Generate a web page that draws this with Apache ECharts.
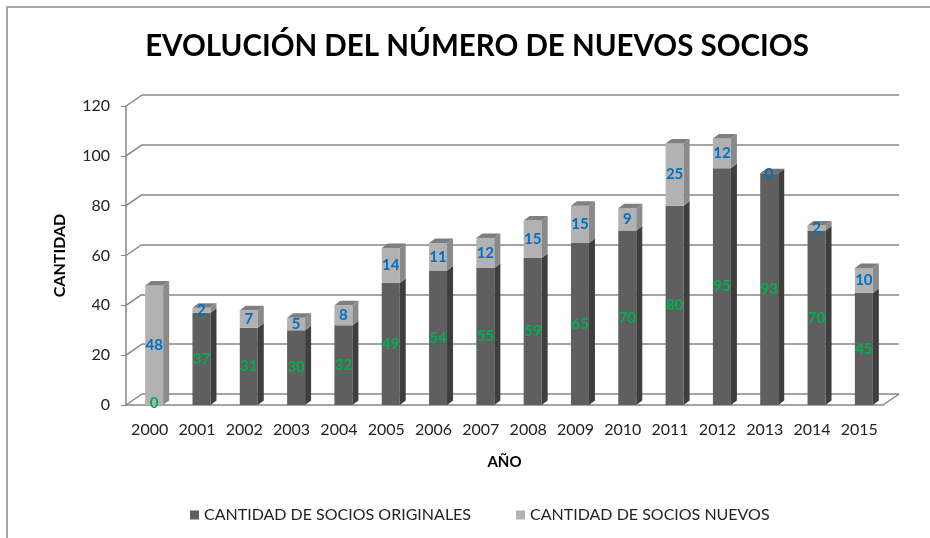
<!DOCTYPE html>
<html>
<head>
<meta charset="utf-8">
<script src="https://cdn.jsdelivr.net/npm/echarts@6/dist/echarts.min.js"></script>
<style>
  html, body { margin: 0; padding: 0; background: #fff; }
  #chart { width: 930px; height: 538px; }
</style>
</head>
<body>
<div id="chart"></div>
<script>
const years = ["2000", "2001", "2002", "2003", "2004", "2005", "2006", "2007",
  "2008", "2009", "2010", "2011", "2012", "2013", "2014", "2015"];
const originales = [0, 37, 31, 30, 32, 49, 54, 55, 59, 65, 70, 80, 95, 93, 70, 45];
const nuevos = [48, 2, 7, 5, 8, 14, 11, 12, 15, 15, 9, 25, 12, 0, 2, 10];
const yTicks = [0, 20, 40, 60, 80, 100, 120];

// fake 3d depth
const DX = 16, DY = 11;
const BAR_L = -4.5, BAR_R = 13.5, SIDE = 6, SIDE_UP = 4.5;
const FONT = "Lato, 'Open Sans', sans-serif";

const chart = echarts.init(document.getElementById("chart"));

function barShape(base, top, x0, x1, front, side, topCol, withTop) {
  const out = [
    { type: "rect", shape: { x: x0, y: top, width: x1 - x0, height: base - top }, style: { fill: front } },
    { type: "polygon", shape: { points: [[x1, top], [x1 + SIDE, top - SIDE_UP], [x1 + SIDE, base - SIDE_UP], [x1, base]] }, style: { fill: side } }
  ];
  if (withTop) {
    out.push({ type: "polygon", shape: { points: [[x0, top], [x0 + SIDE, top - SIDE_UP], [x1 + SIDE, top - SIDE_UP], [x1, top]] }, style: { fill: topCol } });
  }
  return out;
}

function label(text, x, y, color) {
  return { type: "text", z2: 10, x: x, y: y, style: { text: String(text), fill: color, font: "bold 15px " + FONT, align: "center", verticalAlign: "middle" } };
}

function renderOrig(params, api) {
  const i = api.value(0), v = api.value(1), n = api.value(2);
  const b = api.coord([i, 0]), t = api.coord([i, v]);
  const x0 = b[0] + BAR_L, x1 = b[0] + BAR_R;
  let children = [];
  if (v > 0) children = barShape(b[1], t[1], x0, x1, "#5f5f5f", "#3e3e3e", "#717171", n === 0);
  children.push(label(v, (x0 + x1) / 2, (b[1] + t[1]) / 2 - (v === 0 ? 2 : 0), "#00b050"));
  return { type: "group", children: children };
}

function renderNuevo(params, api) {
  const i = api.value(0), o = api.value(1), n = api.value(2);
  const b = api.coord([i, o]), t = api.coord([i, o + n]);
  const x0 = b[0] + BAR_L, x1 = b[0] + BAR_R;
  let children = [];
  if (n > 0) children = barShape(b[1], t[1], x0, x1, "#b2b2b2", "#8a8a8a", "#7f7f7f", true);
  children.push(label(n, (x0 + x1) / 2, (b[1] + t[1]) / 2 + (n === 0 ? 1 : 0), "#0070c0"));
  return { type: "group", children: children };
}

// side wall / floor diagonals
function renderWall(params, api) {
  const cs = params.coordSys;
  const v = api.value(1);
  const p = api.coord([0, v]);
  const x = cs.x;
  const lines = [{ type: "line", shape: { x1: x, y1: p[1], x2: x + DX, y2: p[1] - DY }, style: { stroke: "#868686", lineWidth: 1.5 } }];
  if (v === 0) {
    const r = cs.x + cs.width;
    lines.push({ type: "line", shape: { x1: r, y1: p[1], x2: r + DX, y2: p[1] - DY }, style: { stroke: "#868686", lineWidth: 1.5 } });
  }
  return { type: "group", children: lines };
}

chart.setOption({
  animation: false,
  title: {
    text: "EVOLUCIÓN DEL NÚMERO DE NUEVOS SOCIOS",
    left: 472, top: 26, textAlign: "center",
    textStyle: { fontFamily: FONT, fontWeight: "bold", fontSize: 29.5, color: "#000" }
  },
  graphic: [{
    type: "rect", silent: true,
    shape: { x: 7, y: 7, width: 1000, height: 1000 },
    style: { fill: "none", stroke: "#8c8c8c", lineWidth: 1.5 }
  }],
  legend: {
    bottom: 10, left: 185,
    itemGap: 45, itemWidth: 9, itemHeight: 9, icon: "rect",
    textStyle: { fontFamily: FONT, fontSize: 16, color: "#222" },
    data: ["CANTIDAD DE SOCIOS ORIGINALES", "CANTIDAD DE SOCIOS NUEVOS"]
  },
  grid: [
    { left: 126, right: 47, top: 106, bottom: 133 },
    { left: 126 + DX, right: 47 - DX, top: 106 - DY, bottom: 133 + DY }
  ],
  xAxis: [{
    type: "category", data: years, gridIndex: 0,
    axisLine: { lineStyle: { color: "#868686", width: 1.5 } },
    axisTick: { length: 5, lineStyle: { color: "#868686" } },
    axisLabel: { interval: 0, fontFamily: FONT, fontSize: 16, color: "#222", margin: 17 },
    name: "AÑO", nameLocation: "middle", nameGap: 50,
    nameTextStyle: { fontFamily: FONT, fontWeight: "bold", fontSize: 15, color: "#000" }
  }, {
    type: "category", data: years, gridIndex: 1, show: false
  }],
  yAxis: [{
    type: "value", gridIndex: 0, min: 0, max: 120, interval: 20,
    axisLine: { show: true, lineStyle: { color: "#868686", width: 1.5 } },
    axisTick: { show: true, length: 5, lineStyle: { color: "#868686" } },
    splitLine: { show: false },
    axisLabel: { fontFamily: FONT, fontSize: 16, color: "#222", margin: 16 },
    name: "CANTIDAD", nameLocation: "middle", nameGap: 58, nameRotate: 90,
    nameTextStyle: { fontFamily: FONT, fontWeight: "bold", fontSize: 16, color: "#000" }
  }, {
    type: "value", gridIndex: 1, min: 0, max: 120, interval: 20,
    axisLine: { show: false }, axisTick: { show: false }, axisLabel: { show: false },
    splitLine: { lineStyle: { color: "#868686", width: 1.5 } }
  }],
  series: [
    {
      type: "custom", name: "wall", xAxisIndex: 0, yAxisIndex: 0, silent: true,
      renderItem: renderWall,
      data: yTicks.map((v) => [0, v])
    },
    {
      type: "custom", name: "CANTIDAD DE SOCIOS ORIGINALES", xAxisIndex: 0, yAxisIndex: 0,
      itemStyle: { color: "#5f5f5f" },
      renderItem: renderOrig,
      encode: { x: 0, y: 1 },
      data: years.map((y, i) => [i, originales[i], nuevos[i]])
    },
    {
      type: "custom", name: "CANTIDAD DE SOCIOS NUEVOS", xAxisIndex: 0, yAxisIndex: 0,
      itemStyle: { color: "#b2b2b2" },
      renderItem: renderNuevo,
      encode: { x: 0, y: 1 },
      data: years.map((y, i) => [i, originales[i], nuevos[i]])
    }
  ]
});
</script>
</body>
</html>
